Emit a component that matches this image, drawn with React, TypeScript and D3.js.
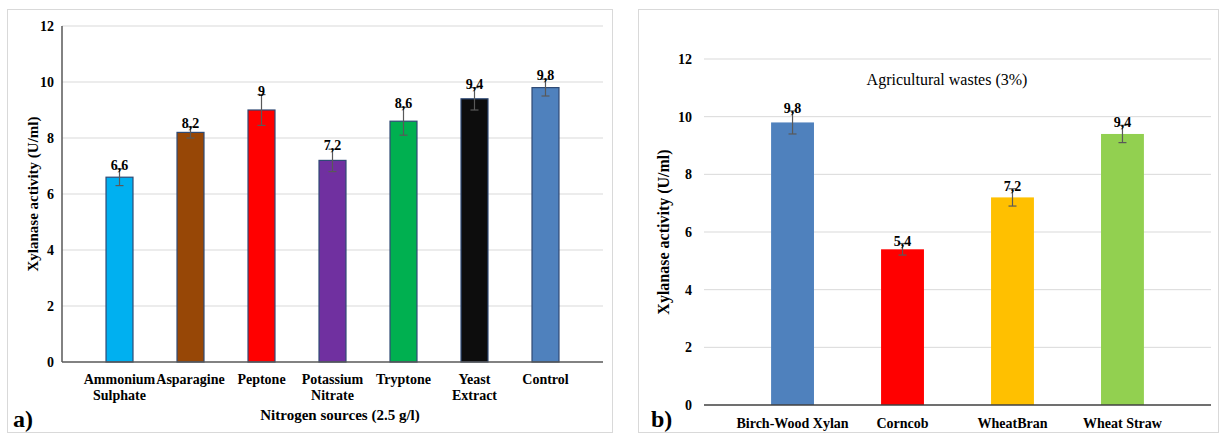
import React from 'react';
import * as d3 from 'd3';

// panel a: nitrogen sources
const nitroCats = ['Ammonium Sulphate', 'Asparagine', 'Peptone', 'Potassium Nitrate', 'Tryptone', 'Yeast Extract', 'Control'];
const nitroVals = [6.6, 8.2, 9, 7.2, 8.6, 9.4, 9.8];
const nitroErr = [0.3, 0.2, 0.55, 0.4, 0.5, 0.4, 0.3];
const nitroLabels = ['6,6', '8,2', '9', '7,2', '8,6', '9,4', '9,8'];
const nitroColors = ['#00B0F0', '#974706', '#FF0000', '#7030A0', '#00B050', '#0D0D0D', '#4F81BD'];

// panel b: agricultural wastes
const wasteCats = ['Birch-Wood Xylan', 'Corncob', 'WheatBran', 'Wheat Straw'];
const wasteVals = [9.8, 5.4, 7.2, 9.4];
const wasteErr = [0.4, 0.2, 0.3, 0.3];
const wasteLabels = ['9,8', '5,4', '7,2', '9,4'];
const wasteColors = ['#4F81BD', '#FF0000', '#FFC000', '#92D050'];

const yTicks = [0, 2, 4, 6, 8, 10, 12];
const font = 'Liberation Serif, DejaVu Serif, serif';

const PanelA = () => {
  const left = 62, right = 603, top = 26, bottom = 362;
  const x = d3.scaleBand().domain(nitroCats).range([left, right]).padding(0.62);
  const y = d3.scaleLinear().domain([0, 12]).range([bottom, top]);
  const data = nitroCats.map((c, i) => ({ c, v: nitroVals[i], e: nitroErr[i], l: nitroLabels[i], col: nitroColors[i] }));
  return (
    <g style={{ fontFamily: font, fontWeight: 'bold' }}>
      <rect x={7.5} y={9.5} width={605} height={423} fill="#fff" stroke="#d9d9d9" />
      {yTicks.map((t) => (
        <g key={t}>
          {t > 0 && <line x1={left} x2={right} y1={y(t)} y2={y(t)} stroke="#d9d9d9" />}
          <text x={left - 8} y={y(t)} dy="0.35em" textAnchor="end" fontSize={14}>{t}</text>
        </g>
      ))}
      <line x1={left} x2={left} y1={top} y2={bottom} stroke="#595959" strokeWidth={1.5} />
      {data.map((d) => {
        const cx = x(d.c)! + x.bandwidth() / 2;
        const parts = d.c.split(' ');
        return (
          <g key={d.c}>
            <rect x={x(d.c)} y={y(d.v)} width={x.bandwidth()} height={bottom - y(d.v)} fill={d.col} stroke="#2F4A75" strokeWidth={1.2} />
            <line x1={cx} x2={cx} y1={y(d.v + d.e)} y2={y(d.v - d.e)} stroke="#595959" strokeWidth={1.2} />
            <line x1={cx - 4} x2={cx + 4} y1={y(d.v + d.e)} y2={y(d.v + d.e)} stroke="#595959" strokeWidth={1.2} />
            <line x1={cx - 4} x2={cx + 4} y1={y(d.v - d.e)} y2={y(d.v - d.e)} stroke="#595959" strokeWidth={1.2} />
            <text x={cx} y={y(d.v + d.e) + 1} textAnchor="middle" fontSize={14}>{d.l}</text>
            {(d.c === 'Asparagine' || d.c === 'Peptone' || d.c === 'Tryptone' || d.c === 'Control') ? (
              <text x={cx} y={384} textAnchor="middle" fontSize={14}>{d.c}</text>
            ) : (
              parts.map((p, i) => (
                <text key={p} x={cx} y={384 + i * 16} textAnchor="middle" fontSize={14}>{p}</text>
              ))
            )}
          </g>
        );
      })}
      <line x1={left} x2={right} y1={bottom} y2={bottom} stroke="#595959" strokeWidth={1.5} />
      <text x={340} y={420} textAnchor="middle" fontSize={15}>Nitrogen sources (2.5 g/l)</text>
      <text x={13} y={427} fontSize={24}>a)</text>
      <text transform={`translate(38,${(top + bottom) / 2}) rotate(-90)`} textAnchor="middle" fontSize={15}>Xylanase activity  (U/ml)</text>
    </g>
  );
};

const PanelB = () => {
  const left = 704, right = 1211, top = 59, bottom = 405;
  const x = d3.scaleBand().domain(wasteCats).range([left, right]).padding(0.61);
  const y = d3.scaleLinear().domain([0, 12]).range([bottom, top]);
  const data = wasteCats.map((c, i) => ({ c, v: wasteVals[i], e: wasteErr[i], l: wasteLabels[i], col: wasteColors[i] }));
  return (
    <g style={{ fontFamily: font }}>
      <rect x={638.5} y={9.5} width={580} height={423} fill="#fff" stroke="#d9d9d9" />
      {yTicks.map((t) => (
        <g key={t}>
          {t > 0 && <line x1={left} x2={right} y1={y(t)} y2={y(t)} stroke="#d9d9d9" />}
          <text x={left - 12} y={y(t)} dy="0.35em" textAnchor="end" fontSize={14} fontWeight="bold">{t}</text>
        </g>
      ))}
      {data.map((d) => {
        const cx = x(d.c)! + x.bandwidth() / 2;
        return (
          <g key={d.c}>
            <rect x={x(d.c)} y={y(d.v)} width={x.bandwidth()} height={bottom - y(d.v)} fill={d.col} />
            <line x1={cx} x2={cx} y1={y(d.v + d.e)} y2={y(d.v - d.e)} stroke="#595959" strokeWidth={1.2} />
            <line x1={cx - 4} x2={cx + 4} y1={y(d.v + d.e)} y2={y(d.v + d.e)} stroke="#595959" strokeWidth={1.2} />
            <line x1={cx - 4} x2={cx + 4} y1={y(d.v - d.e)} y2={y(d.v - d.e)} stroke="#595959" strokeWidth={1.2} />
            <text x={cx} y={y(d.v + d.e) + 2} textAnchor="middle" fontSize={14} fontWeight="bold">{d.l}</text>
            <text x={cx} y={428} textAnchor="middle" fontSize={14} fontWeight="bold">{d.c}</text>
          </g>
        );
      })}
      <line x1={left} x2={right} y1={bottom} y2={bottom} stroke="#404040" strokeWidth={1.5} />
      <text x={947} y={85} textAnchor="middle" fontSize={16}>Agricultural  wastes (3%)</text>
      <text x={651} y={427} fontSize={24} fontWeight="bold">b)</text>
      <text transform={`translate(669,${(top + bottom) / 2}) rotate(-90)`} textAnchor="middle" fontSize={16} fontWeight="bold">Xylanase activity (U/ml)</text>
    </g>
  );
};

export default function App() {
  return (
    <div style={{ position: 'absolute', left: 0, top: 0 }}>
      <svg width={1224} height={439} style={{ display: 'block', background: '#fff' }}>
        <PanelA />
        <PanelB />
      </svg>
    </div>
  );
}
